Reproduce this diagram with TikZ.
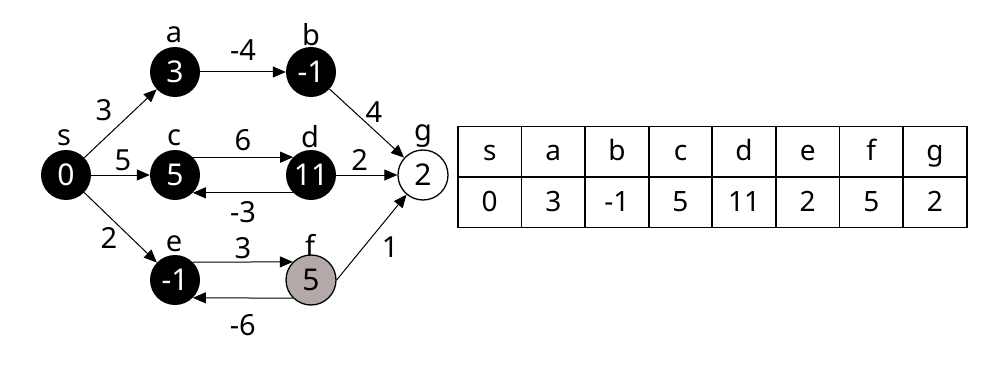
\documentclass[tikz,border=0pt]{standalone}
\usepackage{fontspec}
\setmainfont{Noto Sans}
\usetikzlibrary{arrows.meta}
\begin{document}
\begin{tikzpicture}[x=1pt,y=-1pt,
  vtx/.style={circle,minimum size=50pt,inner sep=0pt,font=\fontsize{30}{32}\selectfont},
  blk/.style={vtx,fill=black,text=white},
  gry/.style={vtx,fill=gray!62!white!96!red,draw=black,line width=1.3pt},
  wht/.style={vtx,fill=white,draw=black,line width=1.3pt},
  nm/.style={font=\fontsize{29}{31}\selectfont,inner sep=0pt},
  lbl/.style={font=\fontsize{29}{31}\selectfont,inner sep=0pt},
  edge/.style={draw=black,line width=1pt,-{Triangle[length=13pt,width=11pt]}},
  cell/.style={draw=black,line width=1.8pt,minimum width=63.6pt,minimum height=50.5pt,inner sep=0pt,text height=20pt,text depth=2pt,font=\fontsize{28}{30}\selectfont,anchor=north west}
]
\useasboundingbox (0,0) rectangle (1004,369);
% vertices
\node[blk] (s) at (66,175) {0};
\node[blk] (a) at (175,72) {3};
\node[blk] (b) at (311,72) {-1};
\node[blk] (c) at (175,175) {5};
\node[blk] (d) at (311,175) {11};
\node[wht] (g) at (423,175) {2};
\node[blk] (e) at (175,280) {-1};
\node[gry] (f) at (311,280) {5};
% names
\node[nm] (ns) at (64,138) {s};
\node[nm] (na) at (174,35) {a};
\node[nm] (nb) at (311,35) {b};
\node[nm] (nc) at (174,138) {c};
\node[nm] (nd) at (310,137) {d};
\node[nm] (ng) at (423,136) {g};
\node[nm] (ne) at (174,244) {e};
\node[nm] (nf) at (310,245) {f};
% edges
\draw[edge] (s) -- (a) node[lbl,midway,xshift=-16.5pt,yshift=13.5pt] {3};
\draw[edge] (s) -- (c) node[lbl,midway,xshift=2.5pt,yshift=15pt] {5};
\draw[edge] (s) -- (e) node[lbl,midway,xshift=-11.5pt,yshift=-10.5pt] {2};
\draw[edge] (a) -- (b) node[lbl,midway,yshift=22pt] {-4};
\draw[edge] (b) -- (g) node[lbl,midway,xshift=7pt,yshift=11.5pt] {4};
\draw[edge] (c.45) -- (d.135) node[lbl,midway,yshift=17pt] {6};
\draw[edge] (d.-135) -- (c.-45) node[lbl,midway,yshift=-19pt] {-3};
\draw[edge] (d) -- (g) node[lbl,midway,xshift=-7pt,yshift=15pt] {2};
\draw[edge] (e.45) -- (f.135) node[lbl,midway,yshift=14pt] {3};
\draw[edge] (f.-135) -- (e.-45) node[lbl,midway,yshift=-27pt] {-6};
\draw[edge] (f.east) -- (g.230) node[lbl,midway,xshift=18.5pt,yshift=-10pt] {1};
% table
\foreach \i/\h/\v in {0/s/0,1/a/3,2/b/-1,3/c/5,4/d/11,5/e/2,6/f/5,7/g/2}{
  \node[cell] (h\i) at (457+63.6*\i,125.5) {\h};
  \node[cell] (v\i) at (457+63.6*\i,176) {\v};
}
\end{tikzpicture}
\end{document}
